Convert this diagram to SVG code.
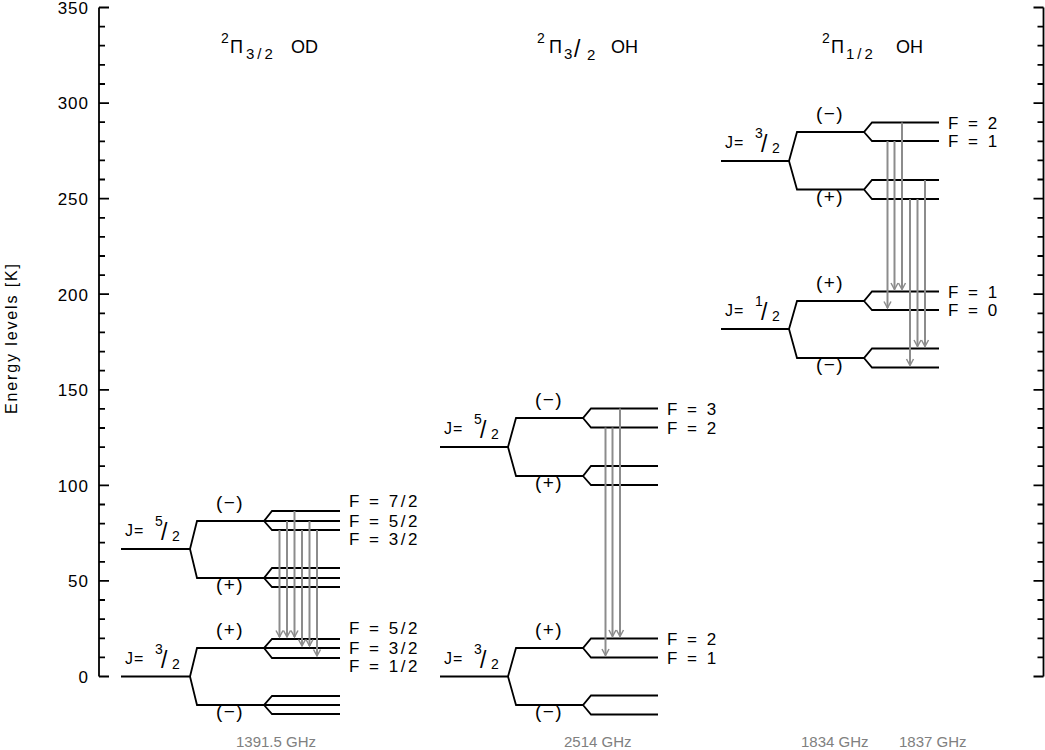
<svg xmlns="http://www.w3.org/2000/svg" width="1045" height="750" viewBox="0 0 1045 750">
<style>
text{font-family:"Liberation Sans","DejaVu Sans",sans-serif;fill:#000}
.tick{font-size:17px;text-anchor:end;letter-spacing:1px}
.ttl{font-size:18px}
.lev{fill:none;stroke:#000;stroke-width:1.8;stroke-linejoin:miter}
.axis{fill:none;stroke:#000;stroke-width:1.8}
.par{font-size:19px;text-anchor:middle;letter-spacing:1.5px}
.f{font-size:17px;letter-spacing:2.5px}
.j{font-size:16px;letter-spacing:1px}
.jn{font-size:14px;letter-spacing:0}
.js{font-size:23px;letter-spacing:0}
.freq{font-size:15px;fill:#808080}
.arr{fill:none;stroke:#8c8c8c;stroke-width:2;marker-end:url(#ah)}
</style>
<defs>
<marker id="ah" viewBox="-8 -5 10 10" refX="0" refY="0" markerWidth="10" markerHeight="10" markerUnits="userSpaceOnUse" orient="auto">
<path d="M-6.5,-3.5 L0,0 L-6.5,3.5" fill="none" stroke="#8c8c8c" stroke-width="1.5"/>
</marker>
</defs>
<rect width="1045" height="750" fill="#fff"/>
<g id="axes">
<path class="axis" d="M99,7.5 V676.5 M1043.5,7.5 V676.5"/>
<path class="axis" d="M99,676.5h10M99,657.4h6M99,638.3h6M99,619.2h6M99,600h6M99,580.9h10M99,561.8h6M99,542.7h6M99,523.6h6M99,504.5h6M99,485.4h10M99,466.2h6M99,447.1h6M99,428h6M99,408.9h6M99,389.8h10M99,370.7h6M99,351.6h6M99,332.4h6M99,313.3h6M99,294.2h10M99,275.1h6M99,256h6M99,236.9h6M99,217.8h6M99,198.6h10M99,179.5h6M99,160.4h6M99,141.3h6M99,122.2h6M99,103.1h10M99,84h6M99,64.9h6M99,45.7h6M99,26.6h6M99,7.5h10"/>
<path class="axis" d="M1043.5,676.5h-10M1043.5,657.4h-6M1043.5,638.3h-6M1043.5,619.2h-6M1043.5,600h-6M1043.5,580.9h-10M1043.5,561.8h-6M1043.5,542.7h-6M1043.5,523.6h-6M1043.5,504.5h-6M1043.5,485.4h-10M1043.5,466.2h-6M1043.5,447.1h-6M1043.5,428h-6M1043.5,408.9h-6M1043.5,389.8h-10M1043.5,370.7h-6M1043.5,351.6h-6M1043.5,332.4h-6M1043.5,313.3h-6M1043.5,294.2h-10M1043.5,275.1h-6M1043.5,256h-6M1043.5,236.9h-6M1043.5,217.8h-6M1043.5,198.6h-10M1043.5,179.5h-6M1043.5,160.4h-6M1043.5,141.3h-6M1043.5,122.2h-6M1043.5,103.1h-10M1043.5,84h-6M1043.5,64.9h-6M1043.5,45.7h-6M1043.5,26.6h-6M1043.5,7.5h-10"/>
<text class="tick" x="89" y="682.5">0</text>
<text class="tick" x="89" y="587">50</text>
<text class="tick" x="89" y="491.5">100</text>
<text class="tick" x="89" y="396">150</text>
<text class="tick" x="89" y="300.5">200</text>
<text class="tick" x="89" y="204.5">250</text>
<text class="tick" x="89" y="109">300</text>
<text class="tick" x="89" y="13.5">350</text>
<text x="17" y="339" font-size="16" text-anchor="middle" transform="rotate(-90 17 339)" textLength="150" lengthAdjust="spacing">Energy levels [K]</text>
</g>
<g id="titles">
<text class="ttl"><tspan x="221" y="43" font-size="14">2</tspan><tspan x="230" y="53">Π</tspan><tspan x="246" y="59" font-size="15" letter-spacing="3">3/2</tspan><tspan x="291" y="53">OD</tspan></text>
<text class="ttl"><tspan x="537" y="43" font-size="14">2</tspan><tspan x="549" y="53">Π</tspan><tspan x="564" y="59" font-size="15">3</tspan><tspan x="574" y="57" font-size="23">/</tspan><tspan x="587" y="60" font-size="15">2</tspan><tspan x="611" y="53">OH</tspan></text>
<text class="ttl"><tspan x="822" y="43" font-size="14">2</tspan><tspan x="831" y="53">Π</tspan><tspan x="846" y="59" font-size="15" letter-spacing="3">1/2</tspan><tspan x="896" y="53">OH</tspan></text>
</g>
<g id="od-J52">
<path class="lev" d="M121,549 H190 L197,521 H264 L272,511 H340 M264,521 H340 M264,521 L272,530 H340 M190,549 L197,578 H264 L272,568 H340 M264,578 H340 M264,578 L272,587 H340"/>
<text class="j"><tspan x="125" y="536">J=</tspan><tspan class="jn" x="155" y="526">5</tspan><tspan class="js" x="161" y="540">/</tspan><tspan class="jn" x="172" y="541">2</tspan></text>
<text class="par" x="230" y="509">(−)</text>
<text class="par" x="230" y="591">(+)</text>
<text class="f" x="349" y="507">F = 7/2</text>
<text class="f" x="349" y="527">F = 5/2</text>
<text class="f" x="349" y="545">F = 3/2</text>
</g>
<g id="od-J32">
<path class="lev" d="M121,676.5 H190 L197,648 H264 L272,639 H340 M264,648 H340 M264,648 L272,658 H340 M190,676.5 L197,705 H264 L272,696 H340 M264,705 H340 M264,705 L272,714 H340"/>
<text class="j"><tspan x="125" y="663.5">J=</tspan><tspan class="jn" x="155" y="653.5">3</tspan><tspan class="js" x="161" y="667.5">/</tspan><tspan class="jn" x="172" y="668.5">2</tspan></text>
<text class="par" x="230" y="636">(+)</text>
<text class="par" x="230" y="718">(−)</text>
<text class="f" x="349" y="634">F = 5/2</text>
<text class="f" x="349" y="653.5">F = 3/2</text>
<text class="f" x="349" y="672">F = 1/2</text>
</g>
<g id="oh32-J52">
<path class="lev" d="M440,447 H508 L516,418 H583 L591,408.5 H658 M583,418 L591,427.5 H658 M508,447 L516,476 H583 L591,466 H658 M583,476 L591,485 H658"/>
<text class="j"><tspan x="444" y="434">J=</tspan><tspan class="jn" x="474" y="424">5</tspan><tspan class="js" x="480" y="438">/</tspan><tspan class="jn" x="491" y="439">2</tspan></text>
<text class="par" x="549" y="406">(−)</text>
<text class="par" x="549" y="489">(+)</text>
<text class="f" x="667" y="414.5">F = 3</text>
<text class="f" x="667" y="433.5">F = 2</text>
</g>
<g id="oh32-J32">
<path class="lev" d="M440,676.5 H508 L516,648 H583 L591,638.5 H658 M583,648 L591,657.5 H658 M508,676.5 L516,705 H583 L591,695.5 H658 M583,705 L591,714.5 H658"/>
<text class="j"><tspan x="444" y="663.5">J=</tspan><tspan class="jn" x="474" y="653.5">3</tspan><tspan class="js" x="480" y="667.5">/</tspan><tspan class="jn" x="491" y="668.5">2</tspan></text>
<text class="par" x="549" y="636">(+)</text>
<text class="par" x="549" y="718">(−)</text>
<text class="f" x="667" y="644.5">F = 2</text>
<text class="f" x="667" y="663.5">F = 1</text>
</g>
<g id="oh12-J32">
<path class="lev" d="M721,161 H789 L797,132 H864 L872,122.5 H939 M864,132 L872,141 H939 M789,161 L797,189.5 H864 L872,180 H939 M864,189.5 L872,199 H939"/>
<text class="j"><tspan x="725" y="148">J=</tspan><tspan class="jn" x="755" y="138">3</tspan><tspan class="js" x="761" y="152">/</tspan><tspan class="jn" x="772" y="153">2</tspan></text>
<text class="par" x="830" y="120">(−)</text>
<text class="par" x="830" y="202.5">(+)</text>
<text class="f" x="948" y="128.5">F = 2</text>
<text class="f" x="948" y="147">F = 1</text>
</g>
<g id="oh12-J12">
<path class="lev" d="M721,329 H789 L797,301 H864 L872,291.5 H939 M864,301 L872,310 H939 M789,329 L797,358 H864 L872,348.5 H939 M864,358 L872,367.5 H939"/>
<text class="j"><tspan x="725" y="316">J=</tspan><tspan class="jn" x="755" y="306">1</tspan><tspan class="js" x="761" y="320">/</tspan><tspan class="jn" x="772" y="321">2</tspan></text>
<text class="par" x="830" y="289">(+)</text>
<text class="par" x="830" y="371">(−)</text>
<text class="f" x="948" y="297.5">F = 1</text>
<text class="f" x="948" y="316">F = 0</text>
</g>
<g id="connectors">
<path class="arr" d="M279.5,530 V637"/>
<path class="arr" d="M287,521 V637"/>
<path class="arr" d="M294.5,511 V637"/>
<path class="arr" d="M302,530 V646"/>
<path class="arr" d="M309.5,521 V646"/>
<path class="arr" d="M317,530 V656"/>
<path class="arr" d="M605.5,427.5 V655.5"/>
<path class="arr" d="M612.5,427.5 V636.5"/>
<path class="arr" d="M620,408.5 V636.5"/>
<path class="arr" d="M887.5,141 V308"/>
<path class="arr" d="M894.5,141 V289.5"/>
<path class="arr" d="M902,122.5 V289.5"/>
<path class="arr" d="M910,199 V365.5"/>
<path class="arr" d="M917.5,199 V346.5"/>
<path class="arr" d="M925,180 V346.5"/>
</g>
<g id="freqs">
<text class="freq" x="236" y="747">1391.5 GHz</text>
<text class="freq" x="564" y="747">2514 GHz</text>
<text class="freq" x="801" y="747">1834 GHz</text>
<text class="freq" x="899" y="747">1837 GHz</text>
</g>
</svg>
